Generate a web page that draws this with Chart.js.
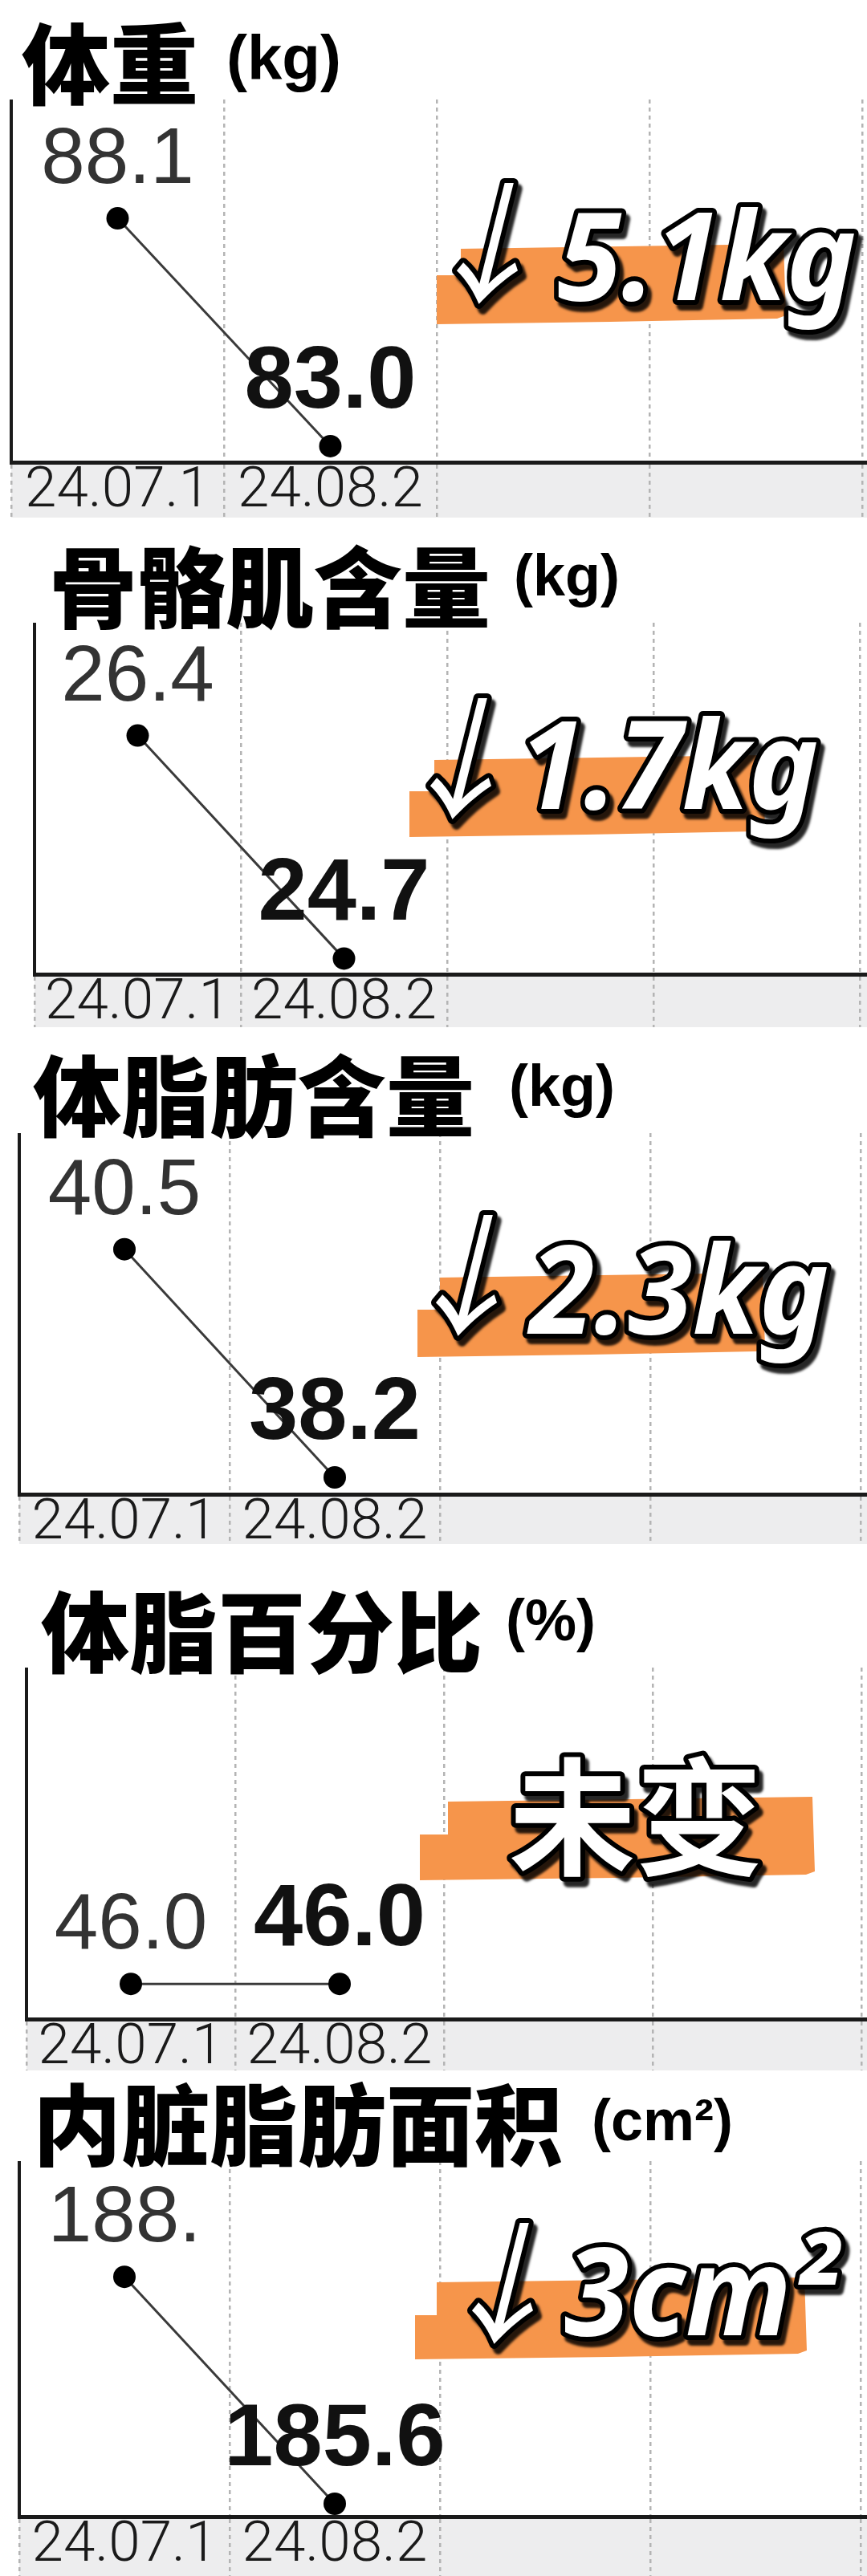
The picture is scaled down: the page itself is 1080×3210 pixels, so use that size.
<!DOCTYPE html>
<html>
<head>
<meta charset="utf-8">
<script src="https://cdn.jsdelivr.net/npm/chart.js@4.4.1/dist/chart.umd.min.js"></script>
<style>
  body { margin: 0; background: #fff; width: 1080px; height: 3210px; position: relative; overflow: hidden; }
  .panel { position: absolute; left: 0; width: 1080px; overflow: hidden; }
  .title { position: absolute; font-family: "Noto Sans CJK SC"; font-weight: 900; font-size: 110px; line-height: 1; color: #000; white-space: nowrap; z-index: 2; }
  .unit { position: absolute; font-family: "Liberation Sans", Arial, sans-serif; font-weight: 700; line-height: 1; color: #000; white-space: nowrap; z-index: 2; }
</style>
</head>
<body>
<script>
// measurement dates (only two are filled, the rest of the columns stay empty)
const dates = ['24.07.1', '24.08.2', '', '', ''];

const weight = [88.1, 83.0];
const muscle = [26.4, 24.7];
const fatMass = [40.5, 38.2];
const fatPercent = [46.0, 46.0];
const visceral = [188.6, 185.6];
// the app cut the first visceral label short
const visceralText = ['188.', '185.6'];

const titles = ['体重', '骨骼肌含量', '体脂肪含量', '体脂百分比', '内脏脂肪面积'];
const units = ['(kg)', '(kg)', '(kg)', '(%)', '(cm²)'];
const changes = ['↓5.1kg', '↓1.7kg', '↓2.3kg', '未变', '↓3cm²'];

const fixed1 = arr => arr.map(v => v.toFixed(1));

// layout of each screenshot strip (page pixels)
const panels = [
  { values: weight, texts: fixed1(weight), top: 124, axisX: 14, col: 265, chartH: 452, bandH: 69, yMin: 82.64, yMax: 90.76,
    title: { x: 31, y: 31 }, unit: { x: 282, y: 41, size: 78 },
    band: { x0: 544, xs: 574, x1: 976, yt: 308, ys: 343, yb: 403 }, arrow: { x: 600, y: 365 }, text: { x: 694, y: 374 } },
  { values: muscle, texts: fixed1(muscle), top: 776, axisX: 43, col: 257, chartH: 438, bandH: 66, yMin: 24.58, yMax: 27.26,
    title: { x: 65, y: 683 }, unit: { x: 640, y: 689, size: 72 },
    band: { x0: 510, xs: 541, x1: 950, yt: 945, ys: 986, yb: 1042 }, arrow: { x: 567, y: 1007 }, text: { x: 647, y: 1008 } },
  { values: fatMass, texts: fixed1(fatMass), top: 1412, axisX: 24, col: 262, chartH: 450, bandH: 62, yMin: 38.03, yMax: 41.67,
    title: { x: 45, y: 1317 }, unit: { x: 634, y: 1325, size: 72 },
    band: { x0: 520, xs: 548, x1: 950, yt: 1590, ys: 1632, yb: 1690 }, arrow: { x: 574, y: 1651 }, text: { x: 660, y: 1662 } },
  { values: fatPercent, texts: fixed1(fatPercent), top: 2078, axisX: 33, col: 260, chartH: 438, bandH: 64, yMin: 45.9, yMax: 46.9,
    title: { x: 55, y: 1985 }, unit: { x: 630, y: 1991, size: 72 },
    band: { x0: 523, xs: 558, x1: 1012, yt: 2243, ys: 2286, yb: 2342 }, arrow: null, text: { x: 634, y: 2324 } },
  { values: visceral, texts: visceralText, top: 2693, axisX: 24, col: 262, chartH: 443, bandH: 74, yMin: 185.43, yMax: 190.13,
    title: { x: 45, y: 2599 }, unit: { x: 737, y: 2614, size: 72 },
    band: { x0: 517, xs: 544, x1: 1002, yt: 2842, ys: 2885, yb: 2939 }, arrow: { x: 619, y: 2907 }, text: { x: 703, y: 2910 } },
];

const SANS = '"Liberation Sans", Arial, sans-serif';
const GRID = '#b4b4b4';

function outlined(ctx, str, x, y, font, sx) {
  ctx.save();
  ctx.translate(x, y);
  ctx.scale(sx, 1);
  ctx.font = font;
  ctx.textAlign = 'left';
  ctx.textBaseline = 'alphabetic';
  ctx.lineJoin = 'round';
  ctx.shadowColor = 'rgba(0,0,0,0.85)';
  ctx.shadowOffsetX = 5;
  ctx.shadowOffsetY = 7;
  ctx.shadowBlur = 3;
  ctx.strokeStyle = '#000';
  ctx.lineWidth = 12;
  ctx.strokeText(str, 0, 0);
  ctx.shadowColor = 'transparent';
  ctx.fillStyle = '#fff';
  ctx.fillText(str, 0, 0);
  ctx.restore();
}

const pointLabels = {
  id: 'pointLabels',
  afterDatasetsDraw(chart, args, opts) {
    const ctx = chart.ctx;
    const pts = chart.getDatasetMeta(0).data;
    pts.forEach((pt, i) => {
      const last = i === pts.length - 1;
      ctx.save();
      ctx.font = last ? 'bold 110px ' + SANS : '98px ' + SANS;
      ctx.fillStyle = last ? '#111' : '#333';
      ctx.textAlign = 'center';
      ctx.textBaseline = 'alphabetic';
      ctx.fillText(opts.texts[i], pt.x, pt.y - (last ? 48 : 44));
      ctx.restore();
    });
  }
};

const labelBand = {
  id: 'labelBand',
  beforeDraw(chart) {
    const { ctx, chartArea } = chart;
    ctx.save();
    ctx.fillStyle = '#ededee';
    ctx.fillRect(chartArea.left, chartArea.bottom, chart.width - chartArea.left, chart.height - chartArea.bottom);
    ctx.restore();
  }
};

const badge = {
  id: 'badge',
  afterDraw(chart, args, opts) {
    const ctx = chart.ctx;
    const p = opts.panel;
    const o = p.top;
    const b = p.band;
    ctx.save();
    ctx.fillStyle = '#f6954b';
    ctx.beginPath();
    ctx.moveTo(b.xs, b.yt + 2 - o);
    ctx.lineTo((b.xs + b.x1) / 2, b.yt - 1 - o);
    ctx.lineTo(b.x1, b.yt - 4 - o);
    ctx.lineTo(b.x1 + 3, b.yb - 10 - o);
    ctx.lineTo(b.x1 - 8, b.yb - 6 - o);
    ctx.lineTo((b.x0 + b.x1) / 2, b.yb - 2 - o);
    ctx.lineTo(b.x0, b.yb + 1 - o);
    ctx.lineTo(b.x0, b.ys - o);
    ctx.lineTo(b.xs, b.ys - o);
    ctx.closePath();
    ctx.fill();
    ctx.restore();

    const str = opts.text;
    if (str.startsWith('↓')) {
      const arrowFont = 'italic 400 163px "Noto Sans CJK SC"';
      ctx.save();
      ctx.font = arrowFont;
      const w = ctx.measureText('↓').width;
      ctx.restore();
      outlined(ctx, '↓', p.arrow.x - w / 2, p.arrow.y - o, arrowFont, 1);
      outlined(ctx, str.slice(1), p.text.x, p.text.y - o, 'italic 700 152px "Noto Sans", "Open Sans", sans-serif', 0.96);
    } else {
      outlined(ctx, str, p.text.x, p.text.y - o, '700 158px "Noto Sans CJK SC"', 1);
    }
  }
};

panels.forEach((p, k) => {
  const t = document.createElement('div');
  t.className = 'title';
  t.textContent = titles[k];
  t.style.left = (p.title.x - 4) + 'px';
  t.style.top = (p.title.y - 12) + 'px';
  document.body.appendChild(t);

  const u = document.createElement('div');
  u.className = 'unit';
  u.textContent = units[k];
  u.style.fontSize = p.unit.size + 'px';
  u.style.left = p.unit.x + 'px';
  u.style.top = (p.unit.y - 8) + 'px';
  document.body.appendChild(u);

  const H = p.chartH + p.bandH;
  const W = p.axisX + p.col * dates.length;
  const wrap = document.createElement('div');
  wrap.className = 'panel';
  wrap.style.top = p.top + 'px';
  wrap.style.height = H + 'px';
  const cv = document.createElement('canvas');
  cv.width = W;
  cv.height = H;
  cv.style.width = W + 'px';
  cv.style.height = H + 'px';
  wrap.appendChild(cv);
  document.body.appendChild(wrap);

  new Chart(cv, {
    type: 'line',
    data: {
      labels: dates,
      datasets: [{
        data: p.values,
        borderColor: '#3a3a3a',
        borderWidth: 3,
        pointRadius: 14,
        pointBackgroundColor: '#000',
        pointBorderWidth: 0,
        tension: 0,
      }],
    },
    options: {
      responsive: false,
      animation: false,
      devicePixelRatio: 1,
      layout: { autoPadding: false, padding: { left: p.axisX, right: 0, top: 0, bottom: 0 } },
      plugins: {
        legend: { display: false },
        tooltip: { enabled: false },
        pointLabels: { texts: p.texts },
        badge: { panel: p, text: changes[k] },
      },
      scales: {
        x: {
          type: 'category',
          offset: true,
          grid: {
            offset: true,
            color: GRID,
            lineWidth: 2.5,
            drawTicks: true,
            tickLength: p.bandH,
            tickColor: GRID,
            tickWidth: 2.5,
            tickBorderDash: [5, 5],
          },
          border: { display: true, color: '#1a1a1a', width: 5, dash: [5, 5] },
          ticks: {
            autoSkip: false,
            maxRotation: 0,
            padding: 2 - p.bandH,
            color: '#1a1a1a',
            font: { family: 'Roboto, "Liberation Sans", Arial, sans-serif', weight: 300, size: 71, lineHeight: 1 },
          },
          afterFit(s) { s.height = p.bandH; },
        },
        y: {
          type: 'linear',
          min: p.yMin,
          max: p.yMax,
          ticks: { display: false },
          grid: { display: false, drawTicks: false },
          border: { display: true, color: '#1a1a1a', width: 4 },
          afterFit(s) { s.width = 0; },
        },
      },
    },
    plugins: [labelBand, pointLabels, badge],
  });
});
</script>
</body>
</html>
